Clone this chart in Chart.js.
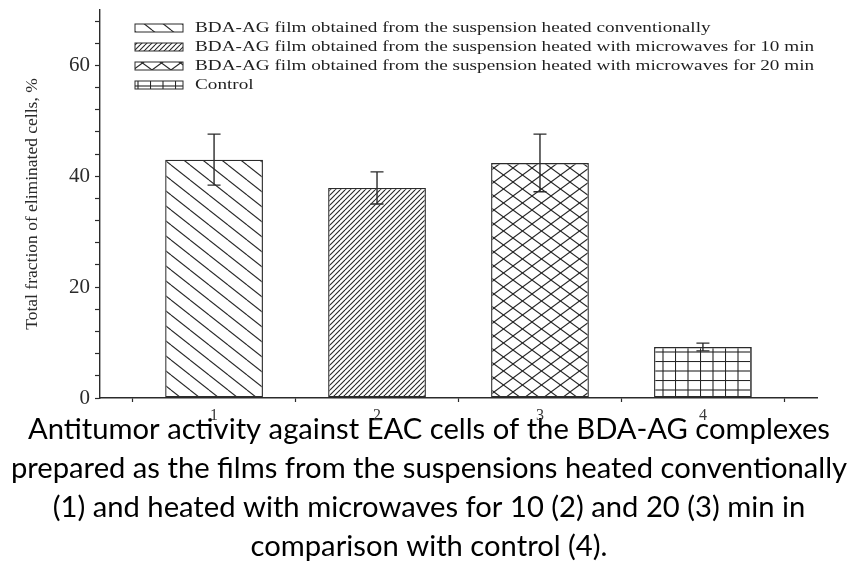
<!DOCTYPE html>
<html>
<head>
<meta charset="utf-8">
<title>Antitumor activity of BDA-AG films</title>
<script src="https://cdn.jsdelivr.net/npm/chart.js@4/dist/chart.umd.min.js"></script>
<style>
  html, body { margin: 0; padding: 0; background: #ffffff; }
  canvas { display: block; }
</style>
</head>
<body>
<canvas id="chart" width="866" height="563"></canvas>
<script>
// ---- data ----
const categories = ['1', '2', '3', '4'];
const seriesLabels = [
  'BDA-AG film obtained from the suspension heated conventionally',
  'BDA-AG film obtained from the suspension heated with microwaves for 10 min',
  'BDA-AG film obtained from the suspension heated with microwaves for 20 min',
  'Control'
];
const values = [43.0, 37.9, 42.4, 9.2];   // total fraction of eliminated cells, %
const errors = [4.6, 2.9, 5.2, 0.7];      // error bar half-lengths, %
const yTickLabels = [0, 20, 40, 60];
const yAxisTitle = 'Total fraction of eliminated cells, %';
const captionLines = [
  'Antitumor activity against EAC cells of the BDA-AG complexes',
  'prepared as the films from the suspensions heated conventionally',
  '(1) and heated with microwaves for 10 (2) and 20 (3) min in',
  'comparison with control (4).'
];

// ---- hatch fills ----
const canvas = document.getElementById('chart');
const ctx0 = canvas.getContext('2d');

function seg(g, x1, y1, x2, y2) {
  g.beginPath(); g.moveTo(x1, y1); g.lineTo(x2, y2); g.stroke();
}
function hatch(w, h, paint) {
  const tile = document.createElement('canvas');
  tile.width = w; tile.height = h;
  const g = tile.getContext('2d');
  g.fillStyle = '#ffffff';
  g.fillRect(0, 0, w, h);
  g.strokeStyle = '#262626';
  g.lineWidth = 1.1;
  paint(g, w, h);
  return ctx0.createPattern(tile, 'repeat');
}
const fills = [
  // sparse back-diagonal
  hatch(19, 15, (g, w, h) => { for (let k = -1; k <= 1; k++) seg(g, 0, k * h, w, (k + 1) * h); }),
  // dense forward-diagonal
  hatch(5, 5, (g, w, h) => { for (let k = -1; k <= 1; k++) seg(g, 0, (k + 1) * h, w, k * h); }),
  // diagonal cross-hatch
  hatch(19, 14, (g, w, h) => {
    for (let k = -1; k <= 1; k++) { seg(g, 0, k * h, w, (k + 1) * h); seg(g, 0, (k + 1) * h, w, k * h); }
  }),
  // square grid
  hatch(25, 19, (g, w, h) => {
    seg(g, 0.5, 0, 0.5, h); seg(g, 13, 0, 13, h);
    seg(g, 0, 0.5, w, 0.5); seg(g, 0, 10, w, 10);
  })
];

// tick positions on the x axis: category centres and the boundaries between them
const xTickValues = [];
categories.forEach((c, i) => { xTickValues.push(i + 0.5, i + 1); });
xTickValues.push(categories.length + 0.5);

const ink = '#2b2b2b';

// ---- plugins ----
const errorBars = {
  id: 'errorBars',
  afterDatasetsDraw(chart) {
    const { ctx, scales: { x, y } } = chart;
    ctx.save();
    ctx.strokeStyle = ink;
    ctx.lineWidth = 1.4;
    chart.data.datasets.forEach((ds, i) => {
      const px = x.getPixelForValue(ds.data[0].x);
      const top = y.getPixelForValue(values[i] + errors[i]);
      const bot = y.getPixelForValue(values[i] - errors[i]);
      const cap = 6.5;
      ctx.beginPath();
      ctx.moveTo(px, top); ctx.lineTo(px, bot);
      ctx.moveTo(px - cap, top); ctx.lineTo(px + cap, top);
      ctx.moveTo(px - cap, bot); ctx.lineTo(px + cap, bot);
      ctx.stroke();
    });
    ctx.restore();
  }
};

// legend drawn inside the plot area, text widened like the original figure
const insetLegend = {
  id: 'insetLegend',
  afterDraw(chart) {
    const { ctx, chartArea } = chart;
    const x0 = chartArea.left + 35;
    const rowH = 19;
    ctx.save();
    ctx.font = '15px "Liberation Serif"';
    ctx.textBaseline = 'middle';
    chart.data.datasets.forEach((ds, i) => {
      const cy = chartArea.top + 18 + i * rowH;
      ctx.fillStyle = ds.backgroundColor;
      ctx.fillRect(x0, cy - 4, 48, 8);
      ctx.strokeStyle = ink;
      ctx.lineWidth = 1;
      ctx.strokeRect(x0, cy - 4, 48, 8);
      ctx.fillStyle = '#1f1f1f';
      ctx.save();
      ctx.translate(x0 + 60, cy);
      ctx.scale(1.28, 1);
      ctx.fillText(ds.label, 0, 0);
      ctx.restore();
    });
    ctx.restore();
  }
};

// ---- chart ----
const datasets = seriesLabels.map((label, i) => ({
  label,
  data: [{ x: Number(categories[i]), y: values[i] }],
  backgroundColor: fills[i],
  borderColor: ink,
  borderWidth: 1.4,
  borderSkipped: false,
  grouped: false,
  barPercentage: 1.2,
  categoryPercentage: 1
}));

new Chart(canvas, {
  type: 'bar',
  data: { datasets },
  plugins: [errorBars, insetLegend],
  options: {
    responsive: false,
    animation: false,
    devicePixelRatio: 1,
    layout: { padding: { left: 0, top: 10, right: 8, bottom: 0 } },
    plugins: {
      legend: { display: false },
      tooltip: { enabled: false },
      title: {
        display: true,
        position: 'bottom',
        text: captionLines,
        color: '#000000',
        font: { family: 'Lato', size: 29.2, weight: 'normal', lineHeight: '38.7px' },
        // the caption tucks up under the axis numbers
        padding: { top: -17.35, bottom: -2.45 }
      }
    },
    scales: {
      x: {
        type: 'linear',
        min: 0.3,
        max: 4.7,
        offset: false,
        afterBuildTicks: (s) => { s.ticks = xTickValues.map(v => ({ value: v })); },
        afterFit: (s) => { s.height = 30; s.paddingLeft = 0; s.paddingRight = 0; },
        grid: {
          offset: false,
          drawOnChartArea: false,
          drawTicks: true,
          tickLength: 4,
          tickWidth: 1.2,
          tickColor: (c) => Number.isInteger(c.tick.value) ? 'rgba(0,0,0,0)' : ink
        },
        border: { display: true, color: ink, width: 1.4 },
        ticks: {
          autoSkip: false,
          maxRotation: 0,
          padding: 4,
          color: '#3a3a3a',
          font: { family: 'Liberation Serif', size: 16 },
          callback: (v) => Number.isInteger(v) ? categories[v - 1] : ''
        }
      },
      y: {
        min: 0,
        max: 70,
        afterFit: (s) => { s.width = 100; s.paddingTop = 0; s.paddingBottom = 0; },
        grid: { drawOnChartArea: false, tickLength: 5, tickWidth: 1.2, tickColor: ink },
        border: { display: true, color: ink, width: 1.4 },
        ticks: {
          stepSize: 4,
          includeBounds: false,
          autoSkip: false,
          padding: 5,
          color: '#2b2b2b',
          font: { family: 'Liberation Serif', size: 21 },
          callback: (v) => yTickLabels.includes(v) ? String(v) : ''
        },
        title: {
          display: true,
          text: yAxisTitle,
          color: '#2b2b2b',
          font: { family: 'Liberation Serif', size: 17.5 },
          padding: { top: 21.5, bottom: 0 }
        }
      },
      // empty right-hand margin beside the plot
      rightMargin: {
        type: 'linear',
        position: 'right',
        grid: { display: false },
        border: { display: false },
        ticks: { display: false },
        afterFit: (s) => { s.width = 41; s.paddingTop = 0; s.paddingBottom = 0; }
      }
    }
  }
});
</script>
</body>
</html>
